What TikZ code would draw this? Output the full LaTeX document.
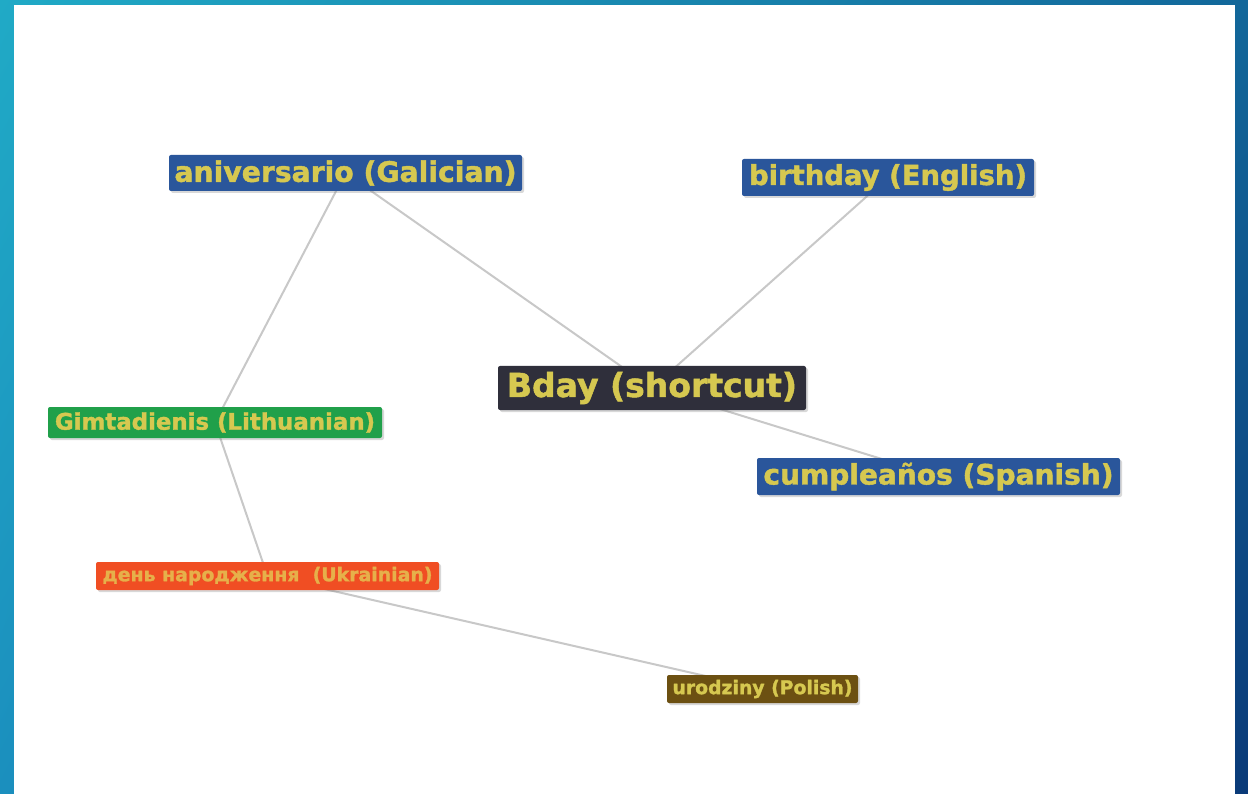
\documentclass[tikz,border=0pt]{standalone}
\usepackage{fontspec}
\setmainfont{DejaVu Sans}[BoldFeatures={FakeBold=1.5}]
\usetikzlibrary{shadows,shadings}
\definecolor{bgUL}{HTML}{20AAC6}
\definecolor{bgLL}{HTML}{1B8FBE}
\definecolor{bgUR}{HTML}{12679A}
\definecolor{bgLR}{HTML}{0A3A78}
\definecolor{boxblue}{HTML}{2A569B}
\definecolor{boxdark}{HTML}{2F2F3B}
\definecolor{boxgreen}{HTML}{20A04A}
\definecolor{boxred}{HTML}{F04E23}
\definecolor{boxbrown}{HTML}{6C5012}
\definecolor{ytext}{HTML}{D6C850}
\definecolor{otext}{HTML}{E6B04A}
\definecolor{edgegray}{HTML}{C8C8C8}
\newcommand\fittext[2]{\resizebox{#1pt}{!}{\bfseries #2}}
\pgfdeclarelayer{bg}
\pgfdeclarelayer{edges}
\pgfsetlayers{bg,edges,main}
\begin{document}
\begin{tikzpicture}[x=1pt,y=-1pt,
  lbl/.style={rectangle, rounded corners=2pt, inner sep=0pt, text=ytext,
    drop shadow={opacity=0.3, shadow xshift=2pt, shadow yshift=-2pt}},
  edge/.style={draw=edgegray, line width=2pt}]
\begin{pgfonlayer}{bg}
\shade[upper left=bgUL, lower left=bgLL, upper right=bgUR, lower right=bgLR] (0,0) rectangle (1248,794);
\fill[white] (14,5) rectangle (1235,794);
\end{pgfonlayer}
\useasboundingbox (0,0) rectangle (1248,794);

\node[lbl, fill=boxblue, minimum width=353pt, minimum height=36pt] (ani) at (345.5,173) {\fittext{342}{aniversario (Galician)}};
\node[lbl, fill=boxblue, minimum width=292pt, minimum height=37pt] (eng) at (888,177.5) {\fittext{278}{birthday (English)}};
\node[lbl, fill=boxdark, minimum width=308pt, minimum height=44pt] (bday) at (652,388) {\fittext{290}{Bday (shortcut)}};
\node[lbl, fill=boxgreen, minimum width=334pt, minimum height=31pt] (lit) at (215,422.5) {\fittext{320}{Gimtadienis (Lithuanian)}};
\node[lbl, fill=boxblue, minimum width=363pt, minimum height=37pt] (spa) at (938.5,476.5) {\fittext{350}{cumpleaños (Spanish)}};
\node[lbl, fill=boxred, text=otext, minimum width=343pt, minimum height=28pt] (ukr) at (267.5,576) {\fittext{330}{день народження\ \ (Ukrainian)}};
\node[lbl, fill=boxbrown, minimum width=191pt, minimum height=28pt] (pol) at (762.5,689) {\fittext{180}{urodziny (Polish)}};

\begin{pgfonlayer}{edges}
\draw[edge] (ani.center) -- (bday.center);
\draw[edge] (eng.center) -- (bday.center);
\draw[edge] (ani.center) -- (lit.center);
\draw[edge] (lit.center) -- (ukr.center);
\draw[edge] (bday.center) -- (spa.center);
\draw[edge] (ukr.center) -- (pol.center);
\end{pgfonlayer}
\end{tikzpicture}
\end{document}
